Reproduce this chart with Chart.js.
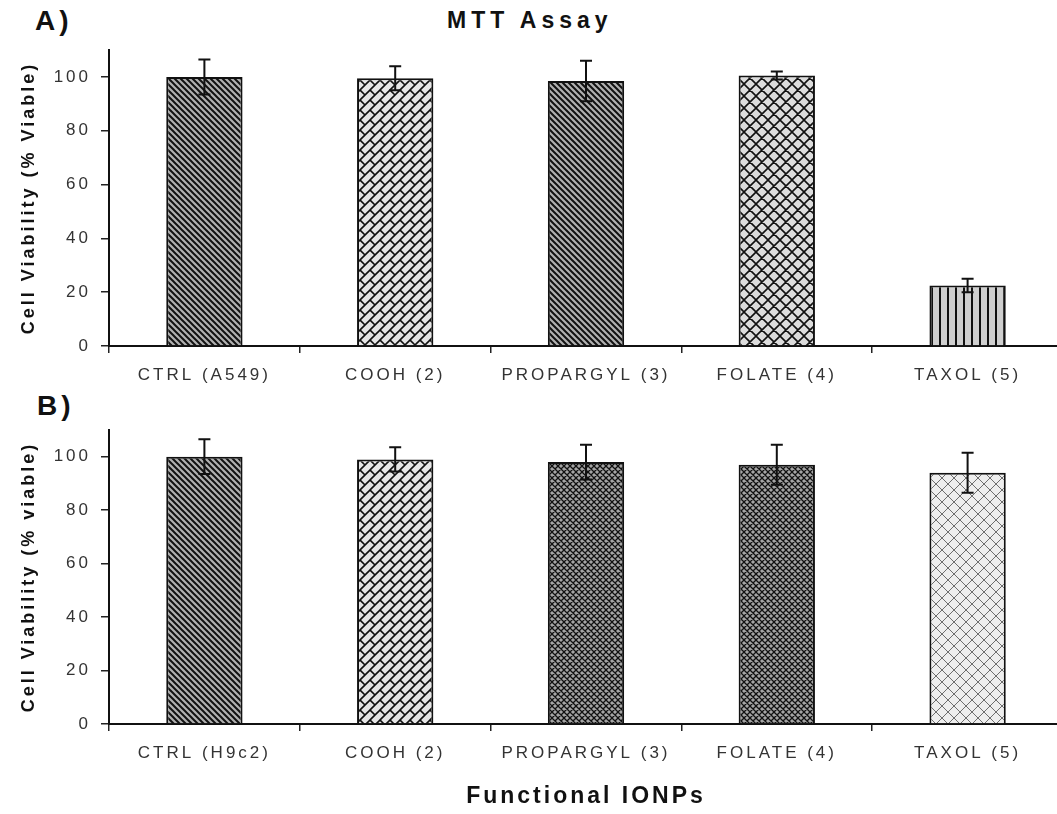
<!DOCTYPE html>
<html>
<head>
<meta charset="utf-8">
<script src="https://cdn.jsdelivr.net/npm/chart.js@4.4.0/dist/chart.umd.min.js"></script>
<style>
  html, body { margin: 0; padding: 0; background: #fff; overflow: hidden; }
  #wrap { position: relative; width: 1057px; height: 814px; overflow: hidden; font-family: "Liberation Sans", Arial, sans-serif; color: #111; }
  .lbl { position: absolute; font-weight: bold; letter-spacing: 4px; white-space: nowrap; }
  #chartA { position: absolute; left: 0; top: 0; }
  #chartB { position: absolute; left: 0; top: 400px; }
</style>
</head>
<body>
<div id="wrap">
  <div class="lbl" style="left:35px; top:5px; font-size:28px;">A)</div>
  <div class="lbl" style="left:447px; top:7px; font-size:23px; letter-spacing:5px;">MTT Assay</div>
  <div class="lbl" style="left:37px; top:390px; font-size:28px;">B)</div>
  <canvas id="chartA" width="1068" height="400"></canvas>
  <canvas id="chartB" width="1068" height="414"></canvas>
</div>
<script>
// data
var labelsA = ["CTRL (A549)", "COOH (2)", "PROPARGYL (3)", "FOLATE (4)", "TAXOL (5)"];
var labelsB = ["CTRL (H9c2)", "COOH (2)", "PROPARGYL (3)", "FOLATE (4)", "TAXOL (5)"];
var viabilityA = [100, 99.5, 98.5, 100.5, 22.5];
var errorA = [6.5, 4.5, 7.5, 1.5, 2.5];
var viabilityB = [100, 99, 98, 97, 94];
var errorB = [6.5, 4.5, 6.5, 7.5, 7.5];
var yTicks = [0, 20, 40, 60, 80, 100];
var yMax = 110;

var FONT = "'Liberation Sans', Arial, sans-serif";

// hatch fills
function back(g, s) {
    g.moveTo(0, 0); g.lineTo(s, s);
    g.moveTo(-1, s - 1); g.lineTo(1, s + 1);
    g.moveTo(s - 1, -1); g.lineTo(s + 1, 1);
}
function fwd(g, s) {
    g.moveTo(0, s); g.lineTo(s, 0);
    g.moveTo(-1, 1); g.lineTo(1, -1);
    g.moveTo(s - 1, s + 1); g.lineTo(s + 1, s - 1);
}
function makePattern(kind) {
    var sizes = { diag: 6, brick: 10, cross: 12, vert: 8, fine: 6, light: 12 };
    var s = sizes[kind];
    var c = document.createElement('canvas');
    c.width = s; c.height = s;
    var g = c.getContext('2d');
    g.fillStyle = '#fff';
    g.fillRect(0, 0, s, s);
    g.strokeStyle = '#111';
    g.beginPath();
    if (kind == 'diag') {
        g.fillStyle = '#b0b0b0'; g.fillRect(0, 0, s, s);
        g.lineWidth = 2; back(g, s);
    } else if (kind == 'brick') {
        g.fillStyle = '#e6e6e6'; g.fillRect(0, 0, s, s);
        g.lineWidth = 1.6; fwd(g, s);
        g.moveTo(0, 0); g.lineTo(5, 5);
    } else if (kind == 'cross') {
        g.fillStyle = '#dcdcdc'; g.fillRect(0, 0, s, s);
        g.lineWidth = 1.6; back(g, s); fwd(g, s);
    } else if (kind == 'vert') {
        g.fillStyle = '#cfcfcf'; g.fillRect(0, 0, s, s);
        g.lineWidth = 2; g.moveTo(4, 0); g.lineTo(4, s);
    } else if (kind == 'fine') {
        g.fillStyle = '#a4a4a4'; g.fillRect(0, 0, s, s);
        g.lineWidth = 1.3; back(g, s); fwd(g, s);
    } else if (kind == 'light') {
        g.fillStyle = '#eeeeee'; g.fillRect(0, 0, s, s);
        g.strokeStyle = '#6e6e6e';
        g.lineWidth = 1; back(g, s); fwd(g, s);
    }
    g.stroke();
    return g.createPattern(c, 'repeat');
}

var fillsA = ['diag', 'brick', 'diag', 'cross', 'vert'].map(makePattern);
var fillsB = ['diag', 'brick', 'fine', 'fine', 'light'].map(makePattern);

// error bars drawn through the y scale
var errorBars = {
    id: 'errorBars',
    afterDatasetsDraw: function (chart, args, opts) {
        var ctx = chart.ctx;
        var y = chart.scales.y;
        var vals = chart.data.datasets[0].data;
        var errs = opts.errors;
        ctx.save();
        ctx.strokeStyle = '#111';
        ctx.lineWidth = 2;
        chart.getDatasetMeta(0).data.forEach(function (bar, i) {
            var top = y.getPixelForValue(vals[i] + errs[i]);
            var bot = y.getPixelForValue(vals[i] - errs[i]);
            ctx.beginPath();
            ctx.moveTo(bar.x, top); ctx.lineTo(bar.x, bot);
            ctx.moveTo(bar.x - 6, top); ctx.lineTo(bar.x + 6, top);
            ctx.moveTo(bar.x - 6, bot); ctx.lineTo(bar.x + 6, bot);
            ctx.stroke();
        });
        ctx.restore();
    }
};

// the source figure has wide tracking on all its text
var tracking = {
    id: 'tracking',
    beforeDraw: function (chart) { chart.ctx.letterSpacing = '3px'; }
};

function makeChart(id, labels, values, errors, fills, yTitle, xTitle, padTop, xHeight) {
    return new Chart(document.getElementById(id), {
        type: 'bar',
        data: {
            labels: labels,
            datasets: [{
                data: values,
                backgroundColor: fills,
                borderColor: '#111',
                borderWidth: 2,
                barPercentage: 0.4,
                categoryPercentage: 1
            }]
        },
        options: {
            responsive: false,
            animation: false,
            layout: { padding: { top: padTop, right: 5, left: 0, bottom: 0 } },
            plugins: {
                legend: { display: false },
                tooltip: { enabled: false },
                errorBars: { errors: errors }
            },
            scales: {
                x: {
                    grid: { offset: true, drawOnChartArea: false, tickLength: 7, color: '#222', lineWidth: 1.5 },
                    border: { color: '#111', width: 2 },
                    ticks: { color: '#333', font: { family: FONT, size: 17 }, padding: 12, autoSkip: false, maxRotation: 0 },
                    title: {
                        display: !!xTitle,
                        text: xTitle || '',
                        color: '#111',
                        font: { family: FONT, size: 23, weight: 'bold' },
                        padding: { top: 0, bottom: 4 }
                    },
                    afterFit: function (s) { s.height = xHeight; }
                },
                y: {
                    min: 0,
                    max: yMax,
                    afterBuildTicks: function (s) {
                        s.ticks = yTicks.map(function (v) { return { value: v }; });
                    },
                    grid: { drawOnChartArea: false, tickLength: 8, color: '#222', lineWidth: 1.5 },
                    border: { color: '#111', width: 2 },
                    ticks: { color: '#333', font: { family: FONT, size: 17 }, padding: 10 },
                    title: {
                        display: true,
                        text: yTitle,
                        color: '#111',
                        font: { family: FONT, size: 18, weight: 'bold' },
                        padding: { top: 18, bottom: 0 }
                    },
                    afterFit: function (s) { s.width = 109; }
                }
            }
        },
        plugins: [tracking, errorBars]
    });
}

makeChart('chartA', labelsA, viabilityA, errorA, fillsA, 'Cell Viability (% Viable)', null, 50, 54);
makeChart('chartB', labelsB, viabilityB, errorB, fillsB, 'Cell Viability (% viable)', 'Functional IONPs', 30, 90);
</script>
</body>
</html>
